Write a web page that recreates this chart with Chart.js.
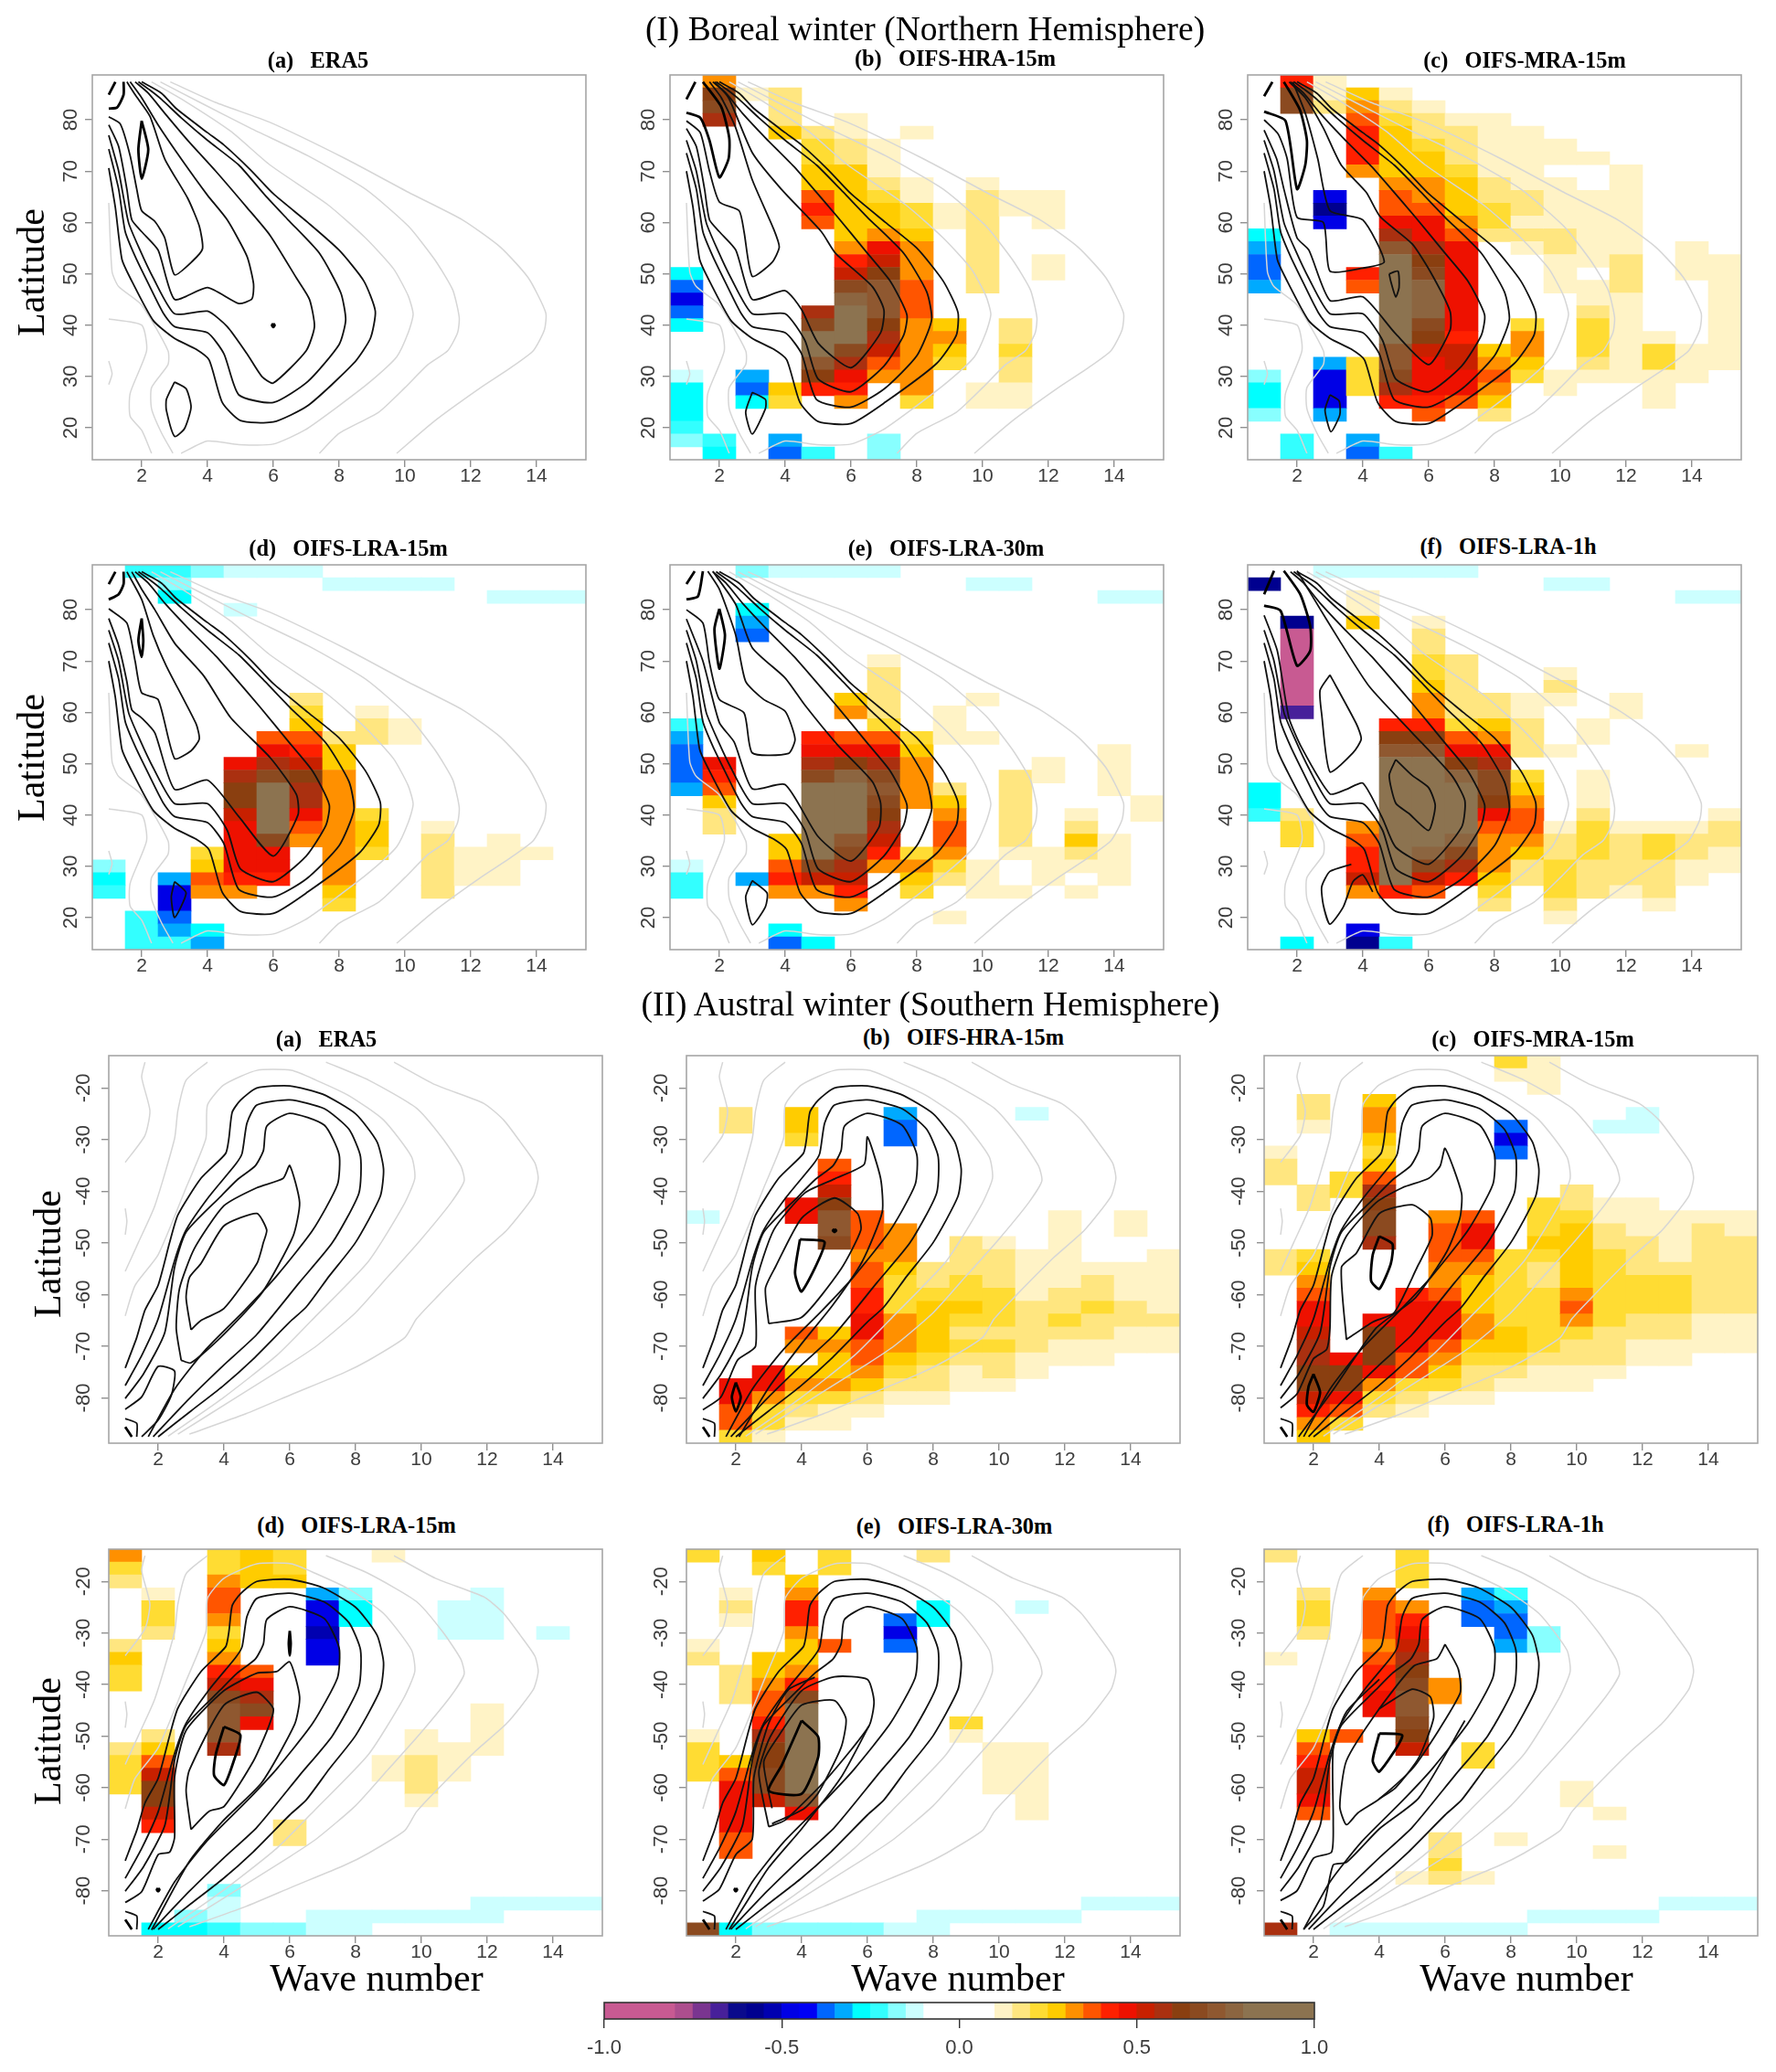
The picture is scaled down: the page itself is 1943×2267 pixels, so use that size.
<!DOCTYPE html>
<html><head><meta charset="utf-8">
<script src="https://cdn.jsdelivr.net/npm/chart.js@4/dist/chart.umd.min.js"></script>
<style>
html,body{margin:0;padding:0;background:#fff}
#page{position:relative;width:1943px;height:2267px;overflow:hidden;background:#fff}
canvas{position:absolute}
.t{position:absolute;transform:translate(-50%,-50%);white-space:pre;font-family:"Liberation Serif",serif;color:#000;line-height:1}
.pt{font-weight:bold;font-size:24.4px}
.h{font-size:37.5px}
.ax{font-size:42px}
.rot{transform:translate(-50%,-50%) rotate(-90deg)}
</style></head><body><div id="page"></div>
<script>
// ---------- colour scale ----------
const BAND_EDGES=[-1,-0.8,-0.75,-0.7,-0.65,-0.6,-0.55,-0.5,-0.45,-0.4,-0.35,-0.3,-0.25,-0.2,-0.15,-0.1,0.1,0.15,0.2,0.25,0.3,0.35,0.4,0.45,0.5,0.55,0.6,0.65,0.7,0.75,0.8,1];
const BAND_COLORS=['#c85a92','#ad4e8e','#7a3590','#47209a','#0a0a8c','#00008f','#0000b0','#0000e6','#0000f5','#0066ff','#00aaff','#00ffff','#33ffff','#88ffff','#ccffff','#ffffff','#fff3c6','#ffe680','#ffdc33','#ffcc00','#ff9000','#ff5500','#ff2000','#ee1100','#c82000','#aa3010','#8a3f10','#8b4a20','#8f5830','#8c6540','#8c7350'];
const COLORBAR_TICKS=[-1,-0.5,0,0.5,1];
const WAVE_TICKS=[2,4,6,8,10,12,14];
const NH_LAT_TICKS=[20,30,40,50,60,70,80];
const SH_LAT_TICKS=[-20,-30,-40,-50,-60,-70,-80];

// ---------- cells: [wave, lat, value] or [wave, latFrom, latTo, value] ----------
const CELLS_NH_B=[[1,50,-.27],[1,47.5,-.37],[1,45,-.47],[1,42.5,-.37],[1,40,-.27],[1,30,-.12],[1,27.5,22.5,-.27],[1,20,-.22],[1,17.5,-.17],
[2,87.5,.32],[2,85,.62],[2,82.5,.67],[2,80,.57],[2,17.5,-.22],[2,15,-.27],
[3,85,.12],[3,30,-.32],[3,27.5,-.37],[3,25,-.27],
[4,85,80,.17],[4,77.5,.27],[4,27.5,.27],[4,25,.22],[4,17.5,-.32],[4,15,-.37],
[5,77.5,.17],[5,75,72.5,.22],[5,70,67.5,.27],[5,65,.37],[5,62.5,.42],[5,60,.37],[5,42.5,.57],[5,40,.67],[5,37.5,35,.8],[5,32.5,.72],[5,30,.62],[5,27.5,.42],[5,15,-.22],
[6,80,77.5,.12],[6,75,72.5,.17],[6,70,57.5,.27],[6,55,.32],[6,52.5,.42],[6,50,.52],[6,47.5,.67],[6,45,.75],[6,42.5,40,.9],[6,37.5,.8],[6,35,.67],[6,32.5,.57],[6,30,.47],[6,27.5,.42],[6,25,.32],
[7,75,70,.12],[7,67.5,.17],[7,65,.22],[7,62.5,60,.27],[7,57.5,.32],[7,55,.47],[7,52.5,.52],[7,50,.62],[7,47.5,42.5,.72],[7,40,.62],[7,37.5,.57],[7,35,.52],[7,32.5,.37],[7,30,.32],[7,17.5,15,-.17],
[8,77.5,.12],[8,67.5,65,.12],[8,62.5,60,.22],[8,57.5,.27],[8,55,50,.32],[8,47.5,42.5,.37],[8,40,27.5,.32],[8,25,.22],
[9,62.5,60,.12],[9,40,.27],[9,37.5,.32],[9,35,.27],[9,32.5,.22],
[10,67.5,.12],[10,65,47.5,.17],[10,27.5,25,.12],
[11,65,62.5,.12],[11,40,37.5,.17],[11,35,.22],[11,32.5,30,.17],[11,27.5,25,.12],
[12,65,60,.12],[12,52.5,50,.12]];
const CELLS_NH_C=[[1,57.5,-.27],[1,55,-.32],[1,52.5,50,-.37],[1,47.5,-.32],[1,30,-.17],[1,27.5,25,-.27],[1,22.5,-.17],
[2,87.5,.42],[2,85,82.5,.67],[2,17.5,15,-.22],
[3,87.5,85,.12],[3,82.5,.17],[3,65,-.47],[3,62.5,-.6],[3,60,-.47],[3,32.5,-.32],[3,30,25,-.47],[3,22.5,-.32],
[4,85,.27],[4,82.5,.32],[4,80,.37],[4,77.5,72.5,.42],[4,70,.32],[4,50,.42],[4,47.5,.37],[4,32.5,27.5,.22],[4,17.5,-.32],[4,15,-.37],
[5,85,.12],[5,82.5,.17],[5,80,.22],[5,77.5,70,.27],[5,67.5,.32],[5,65,62.5,.37],[5,60,.45],[5,57.5,.57],[5,55,.72],[5,52.5,37.5,.9],[5,35,32.5,.72],[5,30,.67],[5,27.5,.55],[5,25,.42],[5,15,-.22],
[6,82.5,.12],[6,80,77.5,.17],[6,75,.22],[6,72.5,70,.27],[6,67.5,65,.32],[6,62.5,.37],[6,60,57.5,.47],[6,55,.55],[6,52.5,.62],[6,50,.67],[6,47.5,42.5,.75],[6,40,.67],[6,37.5,.62],[6,35,.52],[6,32.5,27.5,.47],[6,25,.42],[6,22.5,.37],
[7,80,.12],[7,77.5,72.5,.17],[7,70,.22],[7,67.5,62.5,.27],[7,60,.32],[7,57.5,.37],[7,55,40,.47],[7,37.5,.42],[7,35,32.5,.52],[7,30,27.5,.47],[7,25,.37],
[8,80,70,.12],[8,67.5,65,.17],[8,62.5,60,.22],[8,57.5,.17],[8,35,.27],[8,32.5,.32],[8,30,.37],[8,27.5,.32],[8,25,.27],[8,22.5,.17],
[9,77.5,67.5,.12],[9,65,62.5,.17],[9,60,.12],[9,57.5,.17],[9,55,.12],[9,40,.22],[9,37.5,35,.32],[9,32.5,.27],[9,30,.22],
[10,75,72.5,.12],[10,67.5,60,.12],[10,57.5,55,.17],[10,52.5,47.5,.12],[10,30,27.5,.12],
[11,72.5,.12],[11,65,52.5,.12],[11,47.5,45,.12],[11,42.5,.17],[11,40,35,.22],[11,32.5,.17],[11,30,.12],
[12,70,55,.12],[12,52.5,47.5,.17],[12,45,30,.12],
[13,37.5,.12],[13,35,32.5,.22],[13,30,25,.12],
[14,55,50,.12],[14,35,30,.12],[15,52.5,32.5,.12]];
const CELLS_NH_D=[[1,30,-.17],[1,27.5,-.27],[1,25,-.22],
[2,87.5,-.22],[2,20,15,-.22],
[3,87.5,-.22],[3,85,-.17],[3,82.5,-.27],[3,27.5,-.32],[3,25,22.5,-.47],[3,20,-.37],[3,17.5,-.32],[3,15,-.22],
[4,87.5,-.17],[4,32.5,.22],[4,30,.27],[4,27.5,.37],[4,25,.32],[4,17.5,-.27],[4,15,-.32],
[5,87.5,-.12],[5,80,-.12],[5,50,.47],[5,47.5,.55],[5,45,42.5,.62],[5,40,.52],[5,37.5,30,.47],[5,27.5,.42],[5,25,.32],
[6,87.5,-.12],[6,55,.37],[6,52.5,.47],[6,50,.57],[6,47.5,.67],[6,45,37.5,.9],[6,35,.67],[6,32.5,.47],[6,30,.45],[6,27.5,.42],
[7,87.5,-.12],[7,62.5,.17],[7,60,.22],[7,57.5,.27],[7,55,.37],[7,52.5,.42],[7,50,.52],[7,47.5,.62],[7,45,42.5,.55],[7,40,.47],[7,37.5,.37],[7,35,.32],
[8,85,-.12],[8,55,.17],[8,52.5,50,.27],[8,47.5,27.5,.32],[8,25,.27],[8,22.5,.22],
[9,85,-.12],[9,60,.12],[9,57.5,55,.17],[9,40,.22],[9,37.5,35,.27],[9,32.5,.22],
[10,85,-.12],[10,57.5,55,.12],
[11,85,-.12],[11,37.5,.12],[11,35,27.5,.17],[11,25,.17],
[12,32.5,27.5,.12],[13,82.5,-.12],[13,35,27.5,.12],[14,82.5,-.12],[14,32.5,.12],[15,82.5,-.12]];
const CELLS_NH_E=[[1,57.5,-.22],[1,55,-.32],[1,52.5,47.5,-.37],[1,45,-.32],[1,30,-.12],[1,27.5,25,-.22],
[2,50,.47],[2,47.5,.42],[2,45,.37],[2,42.5,.27],[2,40,37.5,.17],
[3,87.5,-.17],[3,80,-.27],[3,77.5,-.32],[3,75,-.37],[3,27.5,-.32],
[4,87.5,-.12],[4,35,32.5,.27],[4,30,.37],[4,27.5,.42],[4,25,.32],[4,17.5,-.27],[4,15,-.37],
[5,87.5,-.12],[5,55,.42],[5,52.5,.47],[5,50,.57],[5,47.5,.65],[5,45,32.5,.9],[5,30,.65],[5,27.5,.52],[5,25,.32],[5,15,-.27],
[6,87.5,-.12],[6,62.5,.27],[6,60,.32],[6,55,.37],[6,52.5,.47],[6,50,.62],[6,47.5,.77],[6,45,37.5,.9],[6,35,.72],[6,32.5,.67],[6,30,.57],[6,27.5,.52],[6,25,.42],[6,22.5,.32],
[7,87.5,-.12],[7,70,.12],[7,67.5,60,.17],[7,57.5,.22],[7,55,.37],[7,52.5,.47],[7,50,.55],[7,47.5,.67],[7,45,.72],[7,42.5,.67],[7,40,.62],[7,37.5,.57],[7,35,.52],[7,32.5,.42],[7,30,.32],
[8,55,.22],[8,52.5,.27],[8,50,42.5,.32],[8,32.5,.22],[8,30,.32],[8,27.5,.27],[8,25,.22],
[9,60,55,.12],[9,45,.17],[9,42.5,.27],[9,40,.32],[9,37.5,35,.37],[9,32.5,.32],[9,30,.22],[9,27.5,.17],[9,20,.12],
[10,85,-.12],[10,62.5,.12],[10,55,.12],[10,30,25,.12],
[11,85,-.12],[11,47.5,35,.17],[11,32.5,.12],[11,25,.12],
[12,50,47.5,.12],[12,32.5,27.5,.12],
[13,40,.12],[13,37.5,.17],[13,35,.27],[13,32.5,.17],[13,30,.12],[13,25,.12],
[14,82.5,-.12],[14,52.5,45,.12],[14,35,27.5,.12],[15,82.5,-.12],[15,42.5,40,.12]];
const CELLS_NH_F=[[1,85,-.6],[1,45,42.5,-.27],[1,40,-.22],
[2,77.5,-.6],[2,75,62.5,-.9],[2,60,-.67],[2,40,.17],[2,37.5,35,.22],[2,15,-.27],
[3,87.5,-.12],
[4,87.5,-.12],[4,82.5,80,.12],[4,77.5,.27],[4,37.5,.32],[4,35,.37],[4,32.5,30,.42],[4,27.5,.52],[4,25,.32],[4,17.5,-.47],[4,15,-.57],
[5,87.5,-.12],[5,57.5,.42],[5,55,.6],[5,52.5,.7],[5,50,27.5,.9],[5,25,.42],[5,15,-.22],
[6,87.5,-.12],[6,77.5,.12],[6,75,72.5,.17],[6,70,67.5,.22],[6,65,.27],[6,62.5,60,.32],[6,57.5,.42],[6,55,.6],[6,52.5,.7],[6,50,35,.9],[6,32.5,.75],[6,30,.65],[6,27.5,.52],[6,25,.37],
[7,87.5,-.12],[7,70,60,.17],[7,57.5,.22],[7,55,.37],[7,52.5,.47],[7,50,.62],[7,47.5,.75],[7,45,37.5,.9],[7,35,.75],[7,32.5,.67],[7,30,.57],[7,27.5,.42],
[8,62.5,60,.17],[8,57.5,.27],[8,55,.32],[8,52.5,.47],[8,50,.57],[8,47.5,45,.67],[8,42.5,.62],[8,40,.47],[8,37.5,.37],[8,35,30,.32],[8,27.5,.27],[8,25,.22],[8,22.5,.17],
[9,62.5,60,.12],[9,57.5,52.5,.17],[9,47.5,.22],[9,45,.27],[9,42.5,.32],[9,40,37.5,.37],[9,35,.32],[9,32.5,.27],[9,30,.17],[9,27.5,.17],
[10,85,-.12],[10,67.5,.12],[10,65,.17],[10,62.5,.12],[10,52.5,.12],[10,37.5,.12],[10,35,32.5,.17],[10,30,25,.22],[10,22.5,.17],[10,20,.12],
[11,85,-.12],[11,57.5,55,.12],[11,47.5,42.5,.12],[11,40,.17],[11,37.5,32.5,.22],[11,30,25,.17],
[12,62.5,60,.12],[12,37.5,.12],[12,35,27.5,.17],[12,25,.12],
[13,37.5,.12],[13,35,32.5,.22],[13,30,25,.17],[13,22.5,.12],
[14,82.5,-.12],[14,52.5,.12],[14,37.5,.12],[14,35,32.5,.17],[14,30,27.5,.12],
[15,82.5,-.12],[15,40,.12],[15,37.5,35,.17],[15,32.5,30,.12]];
const CELLS_SH_B=[[1,-45,-.12],
[2,-25,-27.5,.17],[2,-77.5,-80,.47],[2,-82.5,-85,.37],[2,-87.5,.22],
[3,-75,-77.5,.47],[3,-80,.32],[3,-82.5,-85,.22],[3,-87.5,.12],
[4,-25,-27.5,.27],[4,-30,.22],[4,-42.5,-45,.47],[4,-67.5,.37],[4,-70,.32],[4,-75,.27],[4,-77.5,.32],[4,-80,.22],[4,-82.5,.17],[4,-85,.12],
[5,-35,.37],[5,-37.5,.42],[5,-40,.52],[5,-42.5,.62],[5,-45,-47.5,.72],[5,-50,.65],[5,-67.5,.27],[5,-70,.32],[5,-72.5,-75,.27],[5,-77.5,.32],[5,-80,.22],[5,-82.5,-85,.12],
[6,-45,-50,.37],[6,-52.5,.32],[6,-55,-57.5,.37],[6,-60,-62.5,.42],[6,-65,-67.5,.47],[6,-70,-72.5,.37],[6,-75,.32],[6,-77.5,.27],[6,-80,.17],[6,-82.5,.12],
[7,-25,-.32],[7,-27.5,-30,-.37],[7,-47.5,-52.5,.32],[7,-55,.27],[7,-57.5,-62.5,.22],[7,-65,-70,.32],[7,-72.5,.27],[7,-75,.22],[7,-77.5,.17],[7,-80,.12],
[8,-55,-57.5,.17],[8,-60,.22],[8,-62.5,-70,.27],[8,-72.5,.22],[8,-75,-77.5,.17],[8,-80,.12],
[9,-50,-55,.17],[9,-57.5,.22],[9,-60,.22],[9,-62.5,.27],[9,-65,.22],[9,-67.5,.17],[9,-70,.22],[9,-72.5,.17],[9,-75,-77.5,.12],
[10,-50,.12],[10,-52.5,-57.5,.17],[10,-60,-65,.22],[10,-67.5,.17],[10,-70,.22],[10,-72.5,-75,.17],[10,-77.5,.12],
[11,-25,-.12],[11,-52.5,-60,.12],[11,-62.5,-70,.17],[11,-72.5,-75,.12],
[12,-45,-57.5,.12],[12,-60,-62.5,.17],[12,-65,.22],[12,-67.5,.17],[12,-70,-72.5,.12],
[13,-55,.12],[13,-57.5,-60,.17],[13,-62.5,.22],[13,-65,-67.5,.17],[13,-70,-72.5,.12],
[14,-45,-47.5,.12],[14,-55,-60,.12],[14,-62.5,-65,.17],[14,-67.5,-70,.12],
[15,-52.5,-62.5,.12],[15,-65,.17],[15,-67.5,-70,.12]];
const CELLS_SH_C=[[1,-32.5,.12],[1,-35,-37.5,.17],[1,-52.5,-55,.17],
[2,-22.5,-25,.17],[2,-27.5,.12],[2,-40,-42.5,.17],[2,-52.5,.22],[2,-55,.27],[2,-57.5,.32],[2,-60,.37],[2,-62.5,-65,.47],[2,-67.5,.52],[2,-70,-72.5,.57],[2,-75,-77.5,.62],[2,-80,.52],[2,-82.5,.42],[2,-85,.32],[2,-87.5,.27],
[3,-37.5,-40,.22],[3,-72.5,.47],[3,-75,-77.5,.62],[3,-80,.47],[3,-82.5,.37],[3,-85,.22],
[4,-22.5,.27],[4,-25,-27.5,.32],[4,-30,.27],[4,-32.5,.22],[4,-35,.27],[4,-37.5,.37],[4,-40,.57],[4,-42.5,.62],[4,-45,-47.5,.67],[4,-50,.57],[4,-65,.47],[4,-67.5,-72.5,.6],[4,-75,.47],[4,-77.5,.32],[4,-80,.22],[4,-82.5,.17],
[5,-60,.42],[5,-62.5,-70,.47],[5,-72.5,.37],[5,-75,.37],[5,-77.5,.22],[5,-80,.17],[5,-82.5,.12],
[6,-45,.32],[6,-47.5,-52.5,.37],[6,-55,-57.5,.32],[6,-60,.37],[6,-62.5,-67.5,.47],[6,-70,.37],[6,-72.5,.32],[6,-75,.27],[6,-77.5,.22],[6,-80,.12],
[7,-45,.37],[7,-47.5,-50,.47],[7,-52.5,.37],[7,-55,.32],[7,-57.5,-62.5,.27],[7,-65,-67.5,.32],[7,-70,.27],[7,-72.5,.22],[7,-75,-77.5,.17],[7,-80,.12],
[8,-15,.22],[8,-17.5,.12],[8,-27.5,-.37],[8,-30,-.47],[8,-32.5,-.37],[8,-52.5,-65,.22],[8,-67.5,-70,.27],[8,-72.5,.22],[8,-75,.17],[8,-77.5,.12],
[9,-15,-20,.12],[9,-42.5,-47.5,.22],[9,-50,.27],[9,-52.5,.22],[9,-55,-57.5,.17],[9,-60,-70,.22],[9,-72.5,.17],[9,-75,-77.5,.12],
[10,-40,-42.5,.17],[10,-45,.22],[10,-47.5,-57.5,.27],[10,-60,.32],[10,-62.5,.37],[10,-65,.32],[10,-67.5,.22],[10,-70,-72.5,.17],[10,-75,-77.5,.12],
[11,-27.5,-.12],[11,-42.5,-45,.12],[11,-47.5,-50,.17],[11,-52.5,-65,.22],[11,-67.5,-72.5,.17],[11,-75,.12],
[12,-25,-27.5,-.12],[12,-42.5,-47.5,.12],[12,-50,-55,.17],[12,-57.5,-62.5,.22],[12,-65,-67.5,.17],[12,-70,-72.5,.12],
[13,-45,-52.5,.12],[13,-55,.17],[13,-57.5,-62.5,.22],[13,-65,-67.5,.17],[13,-70,-72.5,.12],
[14,-45,.12],[14,-47.5,-62.5,.17],[14,-65,-70,.12],
[15,-45,-47.5,.12],[15,-50,-62.5,.17],[15,-65,-70,.12]];
const CELLS_SH_D=[[1,-15,.32],[1,-17.5,.22],[1,-20,.17],[1,-32.5,.17],[1,-35,.27],[1,-37.5,-40,.22],[1,-52.5,.17],[1,-55,-60,.22],
[2,-22.5,.12],[2,-25,-27.5,.22],[2,-30,.17],[2,-50,.17],[2,-52.5,.27],[2,-55,.37],[2,-57.5,.52],[2,-60,-62.5,.62],[2,-65,.52],[2,-67.5,.42],[2,-87.5,-.27],
[3,-85,-.17],[3,-87.5,-.27],
[4,-15,-17.5,.22],[4,-20,.32],[4,-22.5,-25,.37],[4,-27.5,.32],[4,-30,.22],[4,-32.5,.27],[4,-35,.32],[4,-37.5,.42],[4,-40,.52],[4,-42.5,.67],[4,-45,-50,.72],[4,-52.5,.57],[4,-80,-.17],[4,-82.5,-85,-.12],[4,-87.5,-.22],
[5,-15,-20,.27],[5,-37.5,.37],[5,-40,.47],[5,-42.5,.57],[5,-45,.67],[5,-47.5,.47],[5,-87.5,-.17],
[6,-15,-17.5,.22],[6,-20,.27],[6,-67.5,-70,.17],[6,-87.5,-.17],
[7,-22.5,-.32],[7,-25,-27.5,-.47],[7,-30,-.52],[7,-32.5,-35,-.47],[7,-85,-87.5,-.12],
[8,-22.5,-.17],[8,-25,-27.5,-.27],[8,-85,-87.5,-.12],
[9,-15,.12],[9,-55,-57.5,.12],[9,-85,-.12],
[10,-50,-52.5,.12],[10,-55,-60,.17],[10,-62.5,.12],[10,-85,-.12],
[11,-25,-30,-.12],[11,-52.5,-57.5,.12],[11,-85,-.12],
[12,-22.5,-30,-.12],[12,-45,-52.5,.12],[12,-82.5,-85,-.12],
[13,-82.5,-.12],[14,-30,-.12],[14,-82.5,-.12],[15,-82.5,-.12]];
const CELLS_SH_E=[[1,-15,.22],[1,-32.5,.12],[1,-35,.17],[1,-50,.12],[1,-52.5,-57.5,.22],[1,-87.5,.67],
[2,-22.5,.12],[2,-25,.17],[2,-27.5,.12],[2,-37.5,-42.5,.17],[2,-55,.27],[2,-57.5,.37],[2,-60,-67.5,.47],[2,-70,-72.5,.37],[2,-87.5,-.27],
[3,-15,.27],[3,-17.5,.22],[3,-35,-37.5,.27],[3,-40,.32],[3,-42.5,-45,.37],[3,-47.5,.42],[3,-50,.57],[3,-52.5,-55,.62],[3,-57.5,-60,.67],[3,-62.5,.52],[3,-87.5,-.17],
[4,-20,.27],[4,-22.5,.32],[4,-25,-27.5,.42],[4,-30,.32],[4,-32.5,-35,.27],[4,-37.5,.32],[4,-40,.42],[4,-42.5,.67],[4,-45,-60,.9],[4,-62.5,.72],[4,-65,.47],[4,-87.5,-.17],
[5,-15,-17.5,.22],[5,-32.5,.37],[5,-87.5,-.17],
[6,-87.5,-.17],
[7,-27.5,-.37],[7,-30,-.47],[7,-32.5,-.37],[7,-87.5,-.12],
[8,-15,.17],[8,-25,-27.5,-.27],[8,-85,-87.5,-.12],
[9,-47.5,.22],[9,-50,.12],[9,-85,-.12],
[10,-52.5,-60,.12],[10,-85,-.12],
[11,-25,-.12],[11,-52.5,-65,.12],[11,-85,-.12],
[12,-85,-.12],[13,-82.5,-.12],[14,-82.5,-.12],[15,-82.5,-.12]];
const CELLS_SH_F=[[1,-15,.17],[1,-35,.12],[1,-87.5,.57],
[2,-22.5,.17],[2,-25,-27.5,.22],[2,-30,.17],[2,-50,.27],[2,-52.5,.37],[2,-55,.42],[2,-57.5,-60,.52],[2,-62.5,.47],[2,-65,.37],
[3,-50,.37],[3,-87.5,-.12],
[4,-22.5,.32],[4,-25,-30,.37],[4,-32.5,.32],[4,-35,.37],[4,-37.5,-40,.42],[4,-42.5,-45,.47],[4,-87.5,-.12],
[5,-15,-20,.22],[5,-25,.32],[5,-27.5,.42],[5,-30,.47],[5,-32.5,.52],[5,-35,.57],[5,-37.5,.62],[5,-40,.67],[5,-42.5,-45,.72],[5,-47.5,.67],[5,-50,.62],[5,-52.5,.52],[5,-77.5,.12],[5,-87.5,-.12],
[6,-40,-42.5,.32],[6,-70,-72.5,.17],[6,-75,.22],[6,-77.5,.17],[6,-87.5,-.12],
[7,-22.5,-.32],[7,-25,-27.5,-.37],[7,-52.5,-55,.22],[7,-77.5,.12],[7,-87.5,-.12],
[8,-22.5,-.22],[8,-25,-.32],[8,-27.5,-30,-.37],[8,-32.5,-.32],[8,-70,.12],[8,-87.5,-.12],
[9,-30,-32.5,-.17],[9,-85,-.12],
[10,-60,-62.5,.12],[10,-85,-.12],
[11,-65,.12],[11,-72.5,.12],[11,-85,-.12],
[12,-85,-.12],[13,-82.5,-.12],[14,-82.5,-.12],[15,-82.5,-.12]];

// ---------- contours: lists of [wave, lat] ----------
const NH_GRAY=[
[[2.87,87.4],[4.24,83.4],[5.9,79.5],[8.2,72.4],[10.1,65.9],[11.75,60.5],[12.9,55.2],[13.75,49.2],[14.28,42.4],[14.24,39.1],[13.9,35],[13.15,31.4],[12.3,27.8],[10.9,21.3],[9.75,15]],
[[2.57,87.4],[3.77,83.4],[5.3,78.4],[7.05,73],[8.8,66.5],[10.1,59.3],[10.9,52.8],[11.45,46.9],[11.65,41.5],[11.6,38.5],[11.3,35],[10.7,32.3],[10,27.8],[9.2,23],[8,18.9],[7.4,15]],
[[2.3,87.4],[3.3,83.7],[4.7,77.8],[5.9,71.2],[7.65,63.5],[8.8,57],[9.65,51],[10.1,45.7],[10.25,42.1],[10.1,38.5],[9.75,33.8],[8.95,29],[8,24.3],[6.95,19.5],[6,16.8],[4.95,16.7],[4,17.4],[3.2,15]],
[[1,63.8],[1.1,50.4],[1.3,47.5],[2,43.9],[2.8,35],[2.8,32.3],[2.3,27.8],[2.3,23.7],[2.6,19],[2.95,15]],
[[1,41.2],[2,40],[2.15,35],[1.65,26.7],[1.65,22.2],[2,19.5],[2.3,15]],
[[1,33],[1.1,30.5],[1,28.4]]];
const ERA_NH=[
[[2,87.4],[2.6,85.2],[3.05,82.2],[4,77.5],[4.5,75.1],[5.3,70.3],[6,65.6],[7.05,60],[8,54.6],[8.75,48.6],[9.1,42.7],[8.95,37.4],[8.45,32.6],[7.05,24.3],[6,21.1],[5,21.4],[4.45,24.9],[4.05,33.2],[3.65,35.3],[3,37.4],[2.35,40.9],[1.65,49.2],[1.4,52.8],[1.2,62.9],[1,70.6]],
[[1,74.3],[1.3,66.5],[1.5,58.2],[1.8,53.4],[2.2,48.1],[2.65,42.4],[3,39.7],[4,38.5],[4.5,34.4],[4.95,26.4],[6,24.9],[7.05,29],[8,36.2],[8.2,41],[8.05,46.3],[7.4,54],[6.45,60.5],[5.75,65.3],[4.95,71.2],[4,76],[3.2,80.4],[2.6,84],[2.25,85.8],[1.9,87.4]],
[[1,77],[1.3,70],[1.6,60],[1.95,54.6],[2.35,49.2],[3,42.2],[4,42.7],[4.6,39.7],[5.2,34.4],[5.65,30],[6,28.7],[7,35],[7.25,39.7],[7.1,45],[6.7,49.2],[5.9,57.5],[5.2,62.9],[4.25,70],[3.4,76],[2.7,81.3],[2.2,85.2],[1.8,87.4]],
[[1,79],[1.3,74.8],[1.55,66.5],[1.7,60.5],[2,58.2],[2.5,54.6],[3,45],[4,47.3],[4.95,44.2],[5.35,45.1],[5.4,48],[5.2,53.4],[4.6,60.5],[4,65.3],[3.2,72.4],[2.5,79],[2,84.3],[1.65,87.4]],
[[1,80.6],[1.35,79.2],[1.65,73],[1.85,66.5],[2,62.3],[2.4,60.2],[2.7,57],[3,49.8],[3.55,52.5],[3.85,54.9],[3.75,59.3],[3.4,64.7],[2.7,72.4],[2.25,80.7],[1.8,84.9],[1.55,87.4]]];
const ERA_NH_THICK=[[[1,82.2],[1.25,82.4],[1.45,84.9],[1.45,87.4]],[[1,84.9],[1.2,87.4]],[[2,79.8],[2.2,74.2],[2,68.5],[1.9,74.2],[2,79.8]],[[6,40.3],[6.04,40],[6,39.6],[5.96,40],[6,40.3]]];
const ERA_NH_LOOP=[[3,28.9],[3.35,27.6],[3.5,24],[3.3,19.8],[3,18.3],[2.75,23.4],[2.75,25.5],[3,28.9]];
const NH_M1=[[2,87.4],[2.6,85.2],[3.05,82.2],[4,77.5],[4.5,75.1],[5.3,70.3],[6,65.6],[7.05,60],[8,55],[8.8,48.6],[9.25,42.5],[9.2,38],[8.6,32.5],[7.05,25],[6,20.8],[5,21.2],[4.45,24.9],[4.05,33.2],[3.65,35.3],[3,37.4],[2.35,40.9],[1.65,49.2],[1.4,52.8],[1.2,62.9],[1,70]];
const NH_M2=[[1,73.5],[1.3,66.5],[1.5,58.2],[1.8,53.4],[2.2,48.1],[2.65,42.4],[3,39.7],[4,38.5],[4.5,34.4],[4.95,25.5],[6,24],[7,27.5],[8,34],[8.45,41],[8.3,46.5],[7.6,54],[6.5,61],[5.75,66],[4.95,71.2],[4,76],[3.2,80.4],[2.6,84],[2.25,85.8],[1.9,87.4]];
const NH_M3=[[1,76],[1.3,70],[1.6,60],[1.95,54.6],[2.35,49.2],[3,42.2],[4,42.2],[4.6,37],[5,29.5],[6,27],[7,32],[7.6,38],[7.7,42],[7.2,48.5],[6.5,54],[5.6,61],[4.8,67],[4.25,71],[3.4,76.5],[2.7,81.3],[2.2,85.2],[1.8,87.4]];
const NH_B_LINES=[[[1,78.3],[1.3,74.8],[1.55,66.5],[1.7,60.5],[2,58.2],[2.5,54.6],[3,45],[4,46.7],[4.5,43],[5,36.5],[6,31.7],[6.9,38.5],[7,43],[6.65,47.5],[5.53,54],[5.1,58.2],[3.88,66.5],[3,73.6],[2.28,84.3],[1.85,87.4]],
[[1,79.8],[1.42,77.5],[1.7,70],[2,64],[2.6,62.3],[2.75,58.2],[3,49.5],[3.6,52.2],[3.82,55.2],[3.65,58.7],[3,68.3],[2.5,78.4],[2.06,84.3],[1.7,87.4]],
[[3,26.9],[3.4,25.5],[3.4,23.7],[3,18.75],[2.8,23],[3,26.9]]];
const NH_B_THICK=[[[1,81.4],[1.42,80.4],[1.7,76],[2,68.8],[2.28,72.4],[2.3,76.5],[2.06,82.5],[1.5,87.4]],[[1,84],[1.27,87.4]]];
const NH_C_LINES=[[[1,78],[1.38,72.4],[1.6,66.5],[2,57],[2.36,54.6],[3,44.8],[4,45.5],[4.97,38.5],[6,32.3],[6.65,39],[6.65,42.7],[6.05,50.4],[5.5,55.8],[4.53,61.1],[4.1,65.9],[3.34,71.2],[2.8,78.4],[2.25,84.3],[1.76,87.4]],
[[1,80],[1.43,77.2],[1.7,72.4],[2,61],[2.8,60],[3,50.5],[4,51.1],[4.65,52.3],[4,60.5],[3,62.3],[2.63,72.4],[2.25,81.3],[1.87,87.4]],
[[4.8,50],[5.07,50.5],[5.1,47.3],[5,45.5],[4.85,48.5],[4.8,50]],
[[3,26.4],[3.28,25.2],[3.3,22.5],[3.03,19.2],[2.85,23.4],[3,26.4]]];
const NH_C_THICK=[[[1,81.6],[1.65,79.8],[2,66.5],[2.25,71.2],[2.3,76],[2.09,81.9],[1.6,87.4]],[[1,84.6],[1.25,87.4]]];
const NH_D_LINES=[[[1,78.3],[1.3,73],[1.55,66],[1.7,60.5],[2,58.9],[2.4,56],[3,45],[4,46.8],[4.95,39.7],[6,32],[6.75,40],[6.7,44],[5.9,51.2],[4.7,59],[3.9,67],[3,73.5],[2.4,80],[2,84],[1.7,87.4]],
[[1,80.2],[1.55,77.4],[1.8,70],[2,63.8],[2.5,62.5],[3,51],[3.5,52.5],[3.75,54.8],[3.65,57.8],[2.75,69],[2.35,75],[2,82],[1.55,87.4]],
[[3,27],[3.35,24.8],[3,20],[2.9,24],[3,27]]];
const NH_D_THICK=[[[1,82],[1.3,83],[1.45,85],[1.45,87.4]],[[1,85],[1.2,87.4]],[[2,78.3],[2.05,74],[2,70.8],[1.9,74],[2,78.3]]];
const NH_E_LINES=[[[1,78.2],[1.5,70],[2,58],[2.45,54.2],[3,45.1],[4,45.9],[5,35.8],[6,31],[6.85,37.6],[6.9,42.3],[6.65,46.5],[5.6,53.6],[4.6,61.4],[4,66.7],[3,72.6],[2.5,81],[1.8,87.5]],
[[1,80],[1.5,77.4],[1.7,69.7],[2,62.5],[2.75,59.9],[3,52.1],[4.1,52],[4.3,54.8],[4,60.2],[3.35,62.5],[2.8,66],[2.5,75],[2,84],[1.65,87.5]],
[[3,27.2],[3.45,24.8],[3.4,22.1],[3,18.6],[2.8,24],[3,27.2]]];
const NH_E_THICK=[[[1,82],[1.35,82.6],[1.5,87.5]],[[1,85],[1.25,87.5]],[[2,80.2],[2.17,75],[2,68.5],[1.85,76.2],[2,80.2]]];
const NH_F_LINES=[[[1,78.9],[1.4,72],[1.75,59],[2.15,53],[3,44.1],[3.5,45],[4,46.2],[4.6,39.3],[5,33.7],[6,30.4],[7,37.6],[7.1,42.8],[6.7,47.7],[5.5,56],[4.2,65],[3.3,73.9],[2.45,82.8],[2,87.6]],
[[3,67.3],[2.7,64.3],[2.75,59.6],[3,48.4],[3.7,52.1],[3.95,54.8],[3.8,57.8],[3,67.3]],
[[5,50.8],[5.5,47.7],[6,45.3],[6.2,41.8],[6,37],[5.4,40.3],[5,42.3],[4.8,47.7],[5,50.8]],
[[3.65,30.4],[3,29],[2.75,26],[2.8,22.4],[3,18.7],[3.4,22],[3.7,27],[4,28.3],[4.3,25]]];
const NH_F_THICK=[[[1,80.8],[1.5,79.8],[2,69.1],[2.4,72],[2.4,76.8],[2.1,83],[1.6,87.6]],[[1,83],[1.3,87.6]]];

const SH_GRAY=[
[[9.17,-15],[10.43,-19.4],[11.9,-23],[12.5,-26.2],[13,-30.4],[13.45,-34.5],[13.55,-37.5],[13.4,-41],[12.6,-47.5],[11.65,-52.9],[10.45,-60.6],[9.85,-64.7],[9.5,-68.3],[8.4,-72.7],[7.65,-75.1],[6.1,-79.2],[4.65,-83.1],[2.95,-87]],
[[7.1,-15],[8.4,-18.5],[9.85,-23.9],[10.65,-29.8],[11.2,-35.1],[11.3,-38],[10.9,-42.2],[9.95,-49.6],[9,-56.4],[8,-63.5],[6.8,-70],[5.95,-73.6],[4.4,-79.8],[2.6,-87]],
[[2.3,-87.4],[3.95,-80.1],[5.6,-71.8],[6.8,-64.1],[8.4,-53.5],[9.45,-42.8],[9.8,-37.5],[9.7,-33.3],[8.85,-26.2],[7.8,-21.5],[6.8,-18.5],[6.05,-16.6],[5,-16.6],[4,-19.4],[3.5,-23.3],[3.45,-29.8],[2.85,-39.3],[2,-52.3],[1.3,-58.2],[1,-64.1]],
[[3.5,-15],[2.85,-18.5],[2.6,-24.4],[2.5,-29.8],[1.9,-42.8],[1.4,-49.9],[1,-55.5]],
[[1.6,-15],[1.5,-17.9],[1.75,-24.4],[1.6,-29.2],[1,-34.4]],
[[1,-43.3],[1.05,-45.8],[1,-48.4]]];
const SH_R1=[[1,-74.2],[1.35,-68.3],[1.6,-63],[2,-58.2],[2.35,-49.9],[2.6,-44.6],[3.3,-37.5],[4.05,-32.7],[4.15,-29.8],[4.25,-24.7],[4.5,-22.4],[5,-20],[6,-19.6],[7,-21.2],[8,-25],[8.65,-30.4],[8.85,-35.7],[8.75,-41],[8,-49.9],[7.2,-56.4],[6.5,-62.4],[6,-65.3],[4.9,-72.4],[3.95,-77.8],[3,-82.5],[2,-87.5]];
const SH_R2=[[1,-77.6],[1.5,-71.8],[2,-64.7],[2.5,-53.4],[2.85,-47.5],[3.55,-41],[4.35,-34.8],[4.55,-32.7],[4.7,-26.8],[5,-23.3],[6,-22.3],[7.05,-24],[7.8,-28],[8.15,-33.3],[8.1,-40.4],[7.3,-49.9],[6.3,-57.6],[5,-67.7],[4,-73.6],[2.95,-80.1],[1.85,-87.5]];
const SH_R3=[[1,-80.1],[1.55,-75.4],[2.2,-67.4],[2.5,-54.7],[2.85,-47.9],[3.9,-41],[4.4,-37.8],[4.95,-35.1],[5.2,-32.1],[5.3,-27.4],[6,-24.9],[7.05,-27.2],[7.5,-32.9],[7.45,-38.7],[6.7,-47.5],[5.6,-56.4],[4.65,-62.9],[3.45,-70.6],[2.5,-78.3],[1.7,-87.5]];
const SH_CORNER=[[[1,-84],[1.35,-84.9],[1.35,-87.5]]];
const SH_CORNER_THICK=[[[1,-85.6],[1.2,-87.5]]];
const ERA_SH=[[[2.7,-72.7],[3,-73.2],[3.9,-68.3],[5.15,-59.7],[6.1,-48.7],[6.3,-42.2],[6,-35],[5.8,-37.5],[5,-39.3],[4,-42.8],[3.1,-51.1],[2.65,-58.8],[2.55,-66.5],[2.7,-72.7]],
[[3,-66.8],[3.3,-65],[4,-62.7],[5,-54],[5.2,-49.9],[5.3,-47.5],[5,-44.3],[4,-46.7],[3.3,-54],[2.95,-56.7],[2.85,-60.6],[3,-66.8]],
[[1,-82.2],[1.5,-79.8],[2,-73.9],[2.5,-74.8],[2.4,-79.5],[2,-84.3],[1.5,-87.5]]];
const SH_B_LINES=[[[1,-82.3],[1.55,-79.8],[2.05,-72.7],[2.6,-70],[2.6,-58.2],[3.15,-47.5],[4.1,-40.3],[5,-37.6],[5.9,-34.8],[6,-29.5],[6.4,-37.5],[6.45,-44],[5.85,-53.5],[4.95,-62],[4,-69.5],[3,-78],[2.1,-87.5]],
[[3,-65.6],[2.9,-58.8],[3.2,-54.7],[4,-45.2],[5,-41.3],[5.7,-44.3],[5.8,-47.5],[5.2,-55],[4,-64.4],[3,-65.6]]];
const SH_B_THICK=[[[3.95,-49.3],[4.7,-49.9],[4,-59.4],[3.8,-55.8],[3.95,-49.3]],[[5,-47.3],[5.05,-47.6],[5,-47.9],[4.95,-47.6],[5,-47.3]],[[2,-77],[2.15,-79.8],[2,-82.6],[1.88,-79.8],[2,-77]]];
const SH_C_LINES=[[[1,-81.9],[1.5,-79.2],[2,-72.4],[2.4,-70.6],[2.5,-66.5],[2.55,-56.4],[3,-48.7],[3.9,-42.2],[4.7,-39.3],[5.5,-37.5],[5.85,-35.1],[6,-31.7],[6.5,-40.4],[6.45,-45.2],[6.05,-51.7],[5.1,-60.6],[3.9,-66.5],[2.6,-78.4],[1.55,-87.5]],
[[3,-68.7],[2.85,-54.7],[3.3,-52],[4,-44.3],[5,-42.6],[5.55,-45.2],[5.6,-48.7],[5.15,-54.7],[4.45,-63.5],[3.8,-65.3],[3,-68.7]]];
const SH_C_THICK=[[[4,-48.7],[4.4,-50.2],[4.35,-54],[4,-58.9],[3.75,-57.3],[3.8,-52.3],[4,-48.7]],[[2,-75.4],[2.2,-78.9],[2,-82.7],[1.8,-81.3],[1.85,-77.8],[2,-75.4]]];
const SH_D_LINES=[[[1,-82.3],[1.5,-80.2],[2,-73],[2.35,-72.5],[2.5,-69.6],[2.5,-58],[2.85,-48.9],[4,-41.2],[5,-37.8],[5.6,-37.5],[6,-35.6],[6.3,-42.4],[6.15,-47.7],[5.15,-59],[3.95,-66.6],[2.95,-74.3],[1.8,-87.6]],
[[3,-68.1],[2.85,-60.7],[2.95,-56.6],[4,-44],[5,-41.5],[5.5,-44.7],[5.35,-48.3],[4.9,-54.8],[4,-63.7],[3.55,-64.6],[3,-68.1]]];
const SH_D_THICK=[[[6,-29.6],[6.03,-32],[6,-34.4],[5.97,-32],[6,-29.6]],[[4,-48.2],[4.5,-49.8],[4.3,-54.8],[4,-59.5],[3.7,-57.6],[3.75,-53.6],[4,-48.2]],[[2,-79.5],[2.04,-79.8],[2,-80.1],[1.96,-79.8],[2,-79.5]]];
const SH_E_LINES=[[[3,-67.6],[2.7,-57],[3.05,-50.1],[4,-41.2],[5,-38.5],[6,-39],[6.2,-43.3],[6.05,-48],[4.75,-58.4],[3.5,-66.3],[3,-67.6]],
[[3.1,-64],[2.85,-55],[3.3,-50],[4,-44],[5,-43.1],[5.35,-46.7],[5.2,-52.2],[4.5,-61.1],[4.05,-64.2],[3.1,-67]],
[[1,-82],[1.5,-79.7],[2,-73],[2.5,-70],[2.55,-58],[3,-47.5],[3.6,-41],[4.4,-38.6]],
[[6.05,-48],[5.2,-58],[4,-68],[3,-75.5],[2.3,-82.5],[1.8,-87.5]]];
const SH_E_THICK=[[[4,-47],[4.5,-50.1],[4.5,-54.2],[4,-61.2],[3,-60.6],[3.4,-55.6],[4,-47]],[[2,-79.5],[2.04,-79.8],[2,-80.1],[1.96,-79.8],[2,-79.5]]];
const SH_F_LINES=[[[6,-32.2],[5.75,-35],[5.05,-36.4],[4,-44.7],[3,-54.8],[2.8,-63.7],[3,-67.2],[3.35,-64.9],[4,-62.2],[5.05,-56],[6.45,-41.8],[6.4,-37],[6,-32.2]],
[[4,-44.7],[5,-40.9],[5.55,-42.4],[5.65,-46.5],[5.2,-54.2],[4.5,-60],[4,-62.2]],
[[1,-81.9],[1.5,-80],[2,-73.7],[2.55,-72.5],[2.6,-66.6],[2.6,-52.4],[3,-45.3],[4,-39]],
[[6.6,-47],[5.2,-62],[4,-68],[3,-74.5],[2.6,-75],[2.3,-83],[1.7,-87.5]]];
const SH_F_THICK=[[[4,-49.5],[4.7,-49.9],[4,-56.9],[3.8,-54.8],[4,-49.5]]];

// ---------- layout ----------
const NH_MODEL=[NH_M1,NH_M2,NH_M3], SH_OUTER=[SH_R1,SH_R2,SH_R3];
const PLOT_W=540,L=70,R=10,T=6,B=50;
const PANELS=[
{plot:[101,81.7,421],title:['(a)   ERA5',348,66],nh:1,cells:[],lines:[...ERA_NH,ERA_NH_LOOP],thick:ERA_NH_THICK},
{plot:[733,81.7,421],title:['(b)   OIFS-HRA-15m',1045,64],nh:1,cells:CELLS_NH_B,lines:[...NH_MODEL,...NH_B_LINES],thick:NH_B_THICK},
{plot:[1365,81.7,421],title:['(c)   OIFS-MRA-15m',1668,66],nh:1,cells:CELLS_NH_C,lines:[...NH_MODEL,...NH_C_LINES],thick:NH_C_THICK},
{plot:[101,618,421],title:['(d)   OIFS-LRA-15m',381,600],nh:1,cells:CELLS_NH_D,lines:[...NH_MODEL,...NH_D_LINES],thick:NH_D_THICK},
{plot:[733,618,421],title:['(e)   OIFS-LRA-30m',1035,600],nh:1,cells:CELLS_NH_E,lines:[...NH_MODEL,...NH_E_LINES],thick:NH_E_THICK},
{plot:[1365,618,421],title:['(f)   OIFS-LRA-1h',1650,598],nh:1,cells:CELLS_NH_F,lines:[...NH_MODEL,...NH_F_LINES],thick:NH_F_THICK},
{plot:[119,1155,423.5],title:['(a)   ERA5',357,1137],nh:0,cells:[],lines:[...SH_OUTER,...ERA_SH,...SH_CORNER],thick:SH_CORNER_THICK},
{plot:[751,1155,423.5],title:['(b)   OIFS-HRA-15m',1054,1135],nh:0,cells:CELLS_SH_B,lines:[...SH_OUTER,...SH_B_LINES,...SH_CORNER],thick:[...SH_B_THICK,...SH_CORNER_THICK]},
{plot:[1383,1155,423.5],title:['(c)   OIFS-MRA-15m',1677,1137],nh:0,cells:CELLS_SH_C,lines:[...SH_OUTER,...SH_C_LINES,...SH_CORNER],thick:[...SH_C_THICK,...SH_CORNER_THICK]},
{plot:[119,1694.7,423],title:['(d)   OIFS-LRA-15m',390,1669],nh:0,cells:CELLS_SH_D,lines:[...SH_OUTER,...SH_D_LINES,...SH_CORNER],thick:[...SH_D_THICK,...SH_CORNER_THICK]},
{plot:[751,1694.7,423],title:['(e)   OIFS-LRA-30m',1044,1670],nh:0,cells:CELLS_SH_E,lines:[...SH_OUTER,...SH_E_LINES,...SH_CORNER],thick:[...SH_E_THICK,...SH_CORNER_THICK]},
{plot:[1383,1694.7,423],title:['(f)   OIFS-LRA-1h',1658,1668],nh:0,cells:CELLS_SH_F,lines:[...SH_OUTER,...SH_F_LINES,...SH_CORNER],thick:[...SH_F_THICK,...SH_CORNER_THICK]}
];
const TEXTS=[
['(I) Boreal winter (Northern Hemisphere)',1012,32,'h'],['(II) Austral winter (Southern Hemisphere)',1018,1099,'h'],
['Latitude',34,298,'ax rot'],['Latitude',34,829,'ax rot'],['Latitude',52,1372,'ax rot'],['Latitude',52,1905,'ax rot'],
['Wave number',412,2164,'ax'],['Wave number',1048,2164,'ax'],['Wave number',1670,2164,'ax']];

// ---------- helpers ----------
const page=document.getElementById('page');
function addText(s,x,y,c){const d=document.createElement('div');d.className='t '+c;d.textContent=s;d.style.left=x+'px';d.style.top=y+'px';page.appendChild(d);}
function colorFor(v){for(let i=0;i<BAND_COLORS.length;i++){if(v>=BAND_EDGES[i]&&v<BAND_EDGES[i+1])return BAND_COLORS[i];}return BAND_COLORS[BAND_COLORS.length-1];}
function makeCanvas(l,t,w,h){const c=document.createElement('canvas');c.width=w;c.height=h;c.style.left=l+'px';c.style.top=t+'px';c.style.width=w+'px';c.style.height=h+'px';page.appendChild(c);return c;}
const frame={id:'frame',afterDatasetsDraw(ch,a,o){const {ctx,chartArea:r}=ch;ctx.save();ctx.strokeStyle=o.color;ctx.lineWidth=o.width;ctx.strokeRect(r.left,r.top,r.right-r.left,r.bottom-r.top);ctx.restore();}};
function lineDs(pts,color,width,order){return {type:'line',data:pts.map(p=>({x:p[0],y:p[1]})),borderColor:color,borderWidth:width,pointRadius:0,tension:0.2,fill:false,order,clip:false,borderJoinStyle:'round'};}

PANELS.forEach(p=>{
  const [px,py,ph]=p.plot;
  const w=L+PLOT_W+R,h=T+Math.round(ph)+B;
  const c=makeCanvas(px-L,py-T,w,h);
  const cells=p.cells.map(r=>{const wave=r[0],top=r[1],bot=r.length===4?r[2]:r[1],v=r[r.length-1];return {x:wave,y:[bot-1.25,top+1.25],v};});
  const datasets=[];
  if(cells.length)datasets.push({type:'bar',data:cells,backgroundColor:cells.map(d=>colorFor(d.v)),borderWidth:0,barPercentage:1,categoryPercentage:1,order:3});
  (p.nh?NH_GRAY:SH_GRAY).forEach(g=>datasets.push(lineDs(g,'#d6d6d6',1.5,2)));
  p.lines.forEach(l=>datasets.push(lineDs(l,'#111',1.8,1)));
  p.thick.forEach(l=>datasets.push(lineDs(l,'#000',2.8,0)));
  const latTicks=p.nh?NH_LAT_TICKS:SH_LAT_TICKS;
  new Chart(c,{type:'bar',data:{datasets},options:{
    responsive:false,animation:false,devicePixelRatio:1,events:[],
    layout:{padding:{top:T,right:R,left:0,bottom:0}},
    plugins:{legend:{display:false},tooltip:{enabled:false},frame:{color:'#a6a6a6',width:1.6}},
    scales:{
      x:{type:'linear',min:0.5,max:15.5,offset:false,
        grid:{display:true,offset:false,drawOnChartArea:false,drawTicks:true,tickLength:8,color:'#909090',lineWidth:1.4},border:{display:false},
        afterBuildTicks:s=>{s.ticks=WAVE_TICKS.map(v=>({value:v}));},afterFit:s=>{s.height=B;s.paddingLeft=0;s.paddingRight=0;},
        ticks:{autoSkip:false,maxRotation:0,minRotation:0,padding:-2,color:'#3c3c3c',font:{family:'"Liberation Sans",sans-serif',size:21},callback:v=>String(v)}},
      y:{type:'linear',min:p.nh?13.75:-88.75,max:p.nh?88.75:-13.75,
        grid:{display:true,drawOnChartArea:false,drawTicks:true,tickLength:8,color:'#909090',lineWidth:1.4},border:{display:false},
        afterBuildTicks:s=>{s.ticks=latTicks.map(v=>({value:v}));},afterFit:s=>{s.width=L;s.paddingTop=0;s.paddingBottom=0;},
        ticks:{autoSkip:false,minRotation:90,maxRotation:90,crossAlign:'center',padding:3,color:'#3c3c3c',font:{family:'"Liberation Sans",sans-serif',size:22},callback:v=>String(v)}}
    }},plugins:[frame]});
  addText(p.title[0],p.title[1],p.title[2],'pt');
});
TEXTS.forEach(t=>addText(t[0],t[1],t[2],t[3]));

// colour bar
(function(){
  const CL=45,CW=777,CR=45,CT=4,CH=18,CB=58;
  const c=makeCanvas(661-CL,2191-CT,CL+CW+CR,CT+CH+CB);
  const segs=BAND_COLORS.map((col,i)=>({x:[BAND_EDGES[i],BAND_EDGES[i+1]],y:'bar'}));
  new Chart(c,{type:'bar',data:{labels:['bar'],datasets:[{data:segs,backgroundColor:BAND_COLORS,borderWidth:0,barPercentage:1,categoryPercentage:1}]},options:{
    indexAxis:'y',responsive:false,animation:false,devicePixelRatio:1,events:[],
    layout:{padding:{top:CT,left:CL,right:CR,bottom:0}},
    plugins:{legend:{display:false},tooltip:{enabled:false},frame:{color:'#333',width:1.6}},
    scales:{
      x:{type:'linear',min:-1,max:1,grid:{display:true,drawOnChartArea:false,drawTicks:true,tickLength:10,color:'#333',lineWidth:1.4},border:{display:false},
        afterBuildTicks:s=>{s.ticks=COLORBAR_TICKS.map(v=>({value:v}));},afterFit:s=>{s.height=CB;},
        ticks:{autoSkip:false,maxRotation:0,minRotation:0,padding:9,color:'#3c3c3c',font:{family:'"Liberation Sans",sans-serif',size:22},callback:v=>v.toFixed(1)}},
      y:{type:'category',display:false,offset:true}
    }},plugins:[frame]});
})();
</script></body></html>
